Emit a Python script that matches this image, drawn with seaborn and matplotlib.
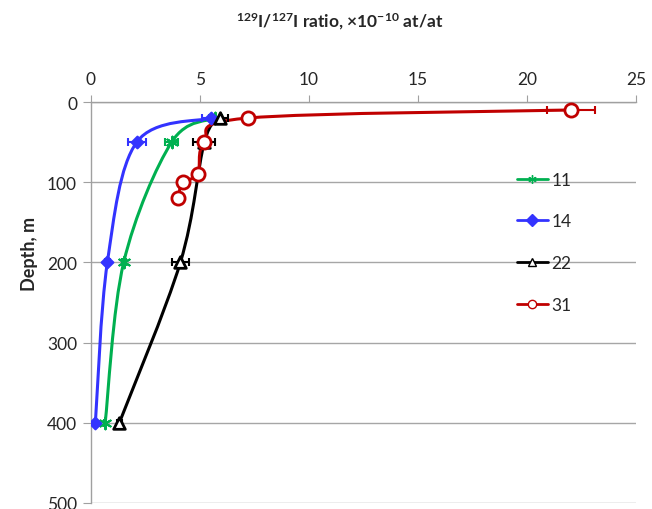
import numpy as np
import pandas as pd
import seaborn as sns
import matplotlib.pyplot as plt
from matplotlib.path import Path
from matplotlib.patches import PathPatch
from matplotlib.lines import Line2D

# data: 129I/127I ratio (x1e-10 at/at) vs depth (m)
depth_11 = [20, 50, 200, 400]
ratio_11 = [5.7, 3.7, 1.5, 0.65]
err_11 = [0.3, 0.3, 0.1, 0.05]

depth_14 = [20, 50, 200, 400]
ratio_14 = [5.5, 2.1, 0.75, 0.2]
err_14 = [0.4, 0.4, 0.1, 0.05]

depth_22 = [20, 50, 200, 400]
ratio_22 = [5.9, 5.2, 4.1, 1.3]
err_22 = [0.4, 0.5, 0.4, 0.1]

depth_31 = [10, 20, 50, 90, 100, 120]
ratio_31 = [22.0, 7.2, 5.2, 4.9, 4.2, 4.0]
err_31 = [1.1, 0.2, 0.2, 0.2, 0.2, 0.2]

labels = ["11", "14", "22", "31"]
x_ticks = [0, 5, 10, 15, 20, 25]
y_ticks = [0, 100, 200, 300, 400, 500]

sns.set_style("white")
plt.rcParams['font.family'] = ['Lato', 'DejaVu Sans']
plt.rcParams['mathtext.fontset'] = 'custom'
plt.rcParams['mathtext.rm'] = 'Lato:bold'
plt.rcParams['mathtext.bf'] = 'Lato:bold'
plt.rcParams['mathtext.default'] = 'rm'


def smooth_path(xs, ys):
    # Excel-style smoothed line (cubic Bezier through the points)
    pts = np.column_stack([xs, ys]).astype(float)
    n = len(pts)
    verts = [pts[0]]
    codes = [Path.MOVETO]
    for i in range(n - 1):
        p0 = pts[i - 1] if i > 0 else pts[i]
        p1 = pts[i]
        p2 = pts[i + 1]
        p3 = pts[i + 2] if i + 2 < n else pts[i + 1]
        verts += [p1 + (p2 - p0) / 6.0, p2 - (p3 - p1) / 6.0, p2]
        codes += [Path.CURVE4] * 3
    return Path(verts, codes)


series = [
    (ratio_11, depth_11, err_11, "#00B050", (6, 2, 0), 70, "#00B050"),
    (ratio_14, depth_14, err_14, "#3333FF", "D", 36, "#3333FF"),
    (ratio_22, depth_22, err_22, "#000000", "^", 70, "white"),
    (ratio_31, depth_31, err_31, "#C00000", "o", 90, "white"),
]

fig = plt.figure(figsize=(6.52, 5.10), dpi=100)
ax = fig.add_axes([91 / 652, 1 - 504 / 510, (636 - 91) / 652, (504 - 103) / 510])

for xs, ys, es, col, mk, sz, fc in series:
    ax.add_patch(PathPatch(smooth_path(xs, ys), facecolor="none", edgecolor=col,
                           lw=2.2, zorder=2))
    ax.errorbar(xs, ys, xerr=es, fmt="none", ecolor=col, elinewidth=1.5,
                capsize=3, capthick=1.5, zorder=3)
    sns.scatterplot(x=xs, y=ys, marker=mk, s=sz, color=col, facecolor=fc,
                    edgecolor=col, linewidth=2 if mk in ("o", "^") else 1.5,
                    ax=ax, zorder=4)

ax.set_xlim(0, 25)
ax.set_ylim(500, 0)
ax.set_xticks(x_ticks)
ax.set_yticks(y_ticks)
ax.xaxis.tick_top()
ax.tick_params(axis="x", top=True, direction="out", length=5, color="#A0A0A0",
               labelsize=12.5, pad=6)
ax.tick_params(axis="y", left=True, direction="out", length=6, color="#A0A0A0",
               labelsize=12.5, pad=4)
ax.grid(axis="y", color="#A6A6A6", lw=1)
ax.grid(axis="x", visible=False)
for side in ["right", "bottom"]:
    ax.spines[side].set_visible(False)
for side in ["left", "top"]:
    ax.spines[side].set_color("#A0A0A0")
    ax.spines[side].set_linewidth(1)

handles = [Line2D([], [], color=s[3], marker=s[4], markersize=6,
                  markerfacecolor=s[6], markeredgecolor=s[3], lw=2)
           for s in series]
ax.legend(handles, labels, frameon=False, loc="upper left",
          bbox_to_anchor=(501 / 652, 1 - 157 / 510), bbox_transform=fig.transFigure,
          fontsize=12.5, handlelength=1.8, handletextpad=0.2, labelspacing=1.48)

fig.text(340 / 652, 1 - 22 / 510,
         r"$^{129}$I/$^{127}$I ratio, ×10$^{-10}$ at/at",
         ha="center", va="center", fontsize=12.5, fontweight="bold")
fig.text(30 / 652, 1 - 254 / 510, "Depth, m", rotation=90, ha="center",
         va="center", fontsize=13, fontweight="bold")

fig.savefig("out.png", dpi=100)
